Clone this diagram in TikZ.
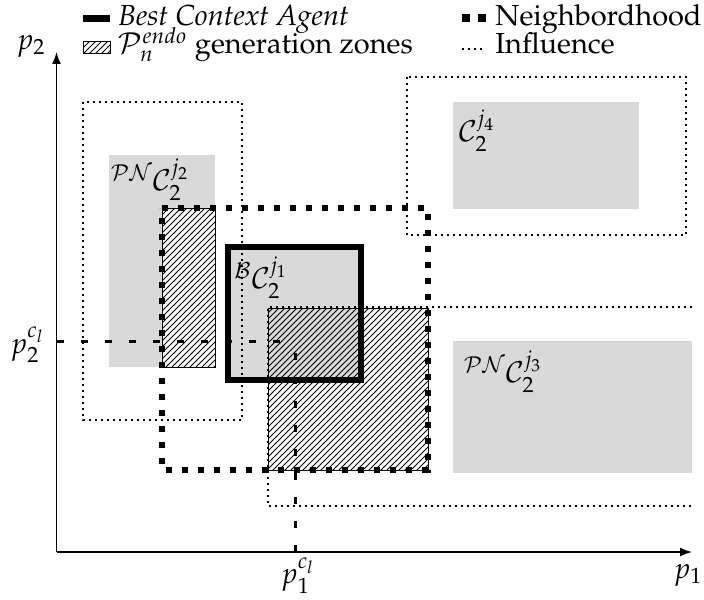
\documentclass[tikz,border=0pt]{standalone}
\usepackage[T1]{fontenc}
\usepackage{mathpazo}
\usetikzlibrary{patterns,arrows.meta}
\definecolor{zone}{RGB}{217,217,217}
\tikzset{
  zonefill/.style={fill=zone,draw=none},
  hatchzone/.style={pattern=north east lines,draw=black,line width=0.5pt},
  influence/.style={draw=black,line width=0.9pt,dash pattern=on 0.9pt off 2.1pt},
  neigh/.style={draw=black,line width=3pt,dash pattern=on 3pt off 5pt},
  bestbox/.style={draw=black,line width=3pt},
  cldash/.style={draw=black,line width=1.5pt,dash pattern=on 3.5pt off 8.5pt},
  axis/.style={draw=black,line width=0.8pt,-{Latex[length=6pt,width=4.5pt]}},
  lbl/.style={inner sep=0pt,font=\fontsize{14.5}{17}\selectfont}
}
\begin{document}
\begin{tikzpicture}[x=0.5pt,y=-0.5pt]
\useasboundingbox (0,0) rectangle (704,599);
% gray zones
\fill[zone] (109,155) rectangle (215,367);
\fill[zone] (228,247) rectangle (361,380);
\fill[zone] (453,341) rectangle (692,473);
\fill[zone] (453,102) rectangle (639,209);
% hatched generation zones
\fill[white] (162,208) rectangle (215,367);
\path[hatchzone] (162,208) rectangle (215,367);
\path[hatchzone] (268,308) rectangle (428,470);
% influence
\path[influence] (83,102) rectangle (242,420);
\path[influence] (407,77) rectangle (686,235);
\path[influence] (692,307) -- (268,307) -- (268,506) -- (692,506);
% best context agent
\path[bestbox] (228,247) rectangle (361,380);
% neighborhood
\path[neigh] (162,208) -- (428,208) -- (428,470) -- (162,470) -- cycle;
% axes
\coordinate (O) at (56.5,552);
\coordinate (Y) at (56.5,52);
\coordinate (X) at (692,552);
\path[axis] (O) -- (Y);
\path[axis] (O) -- (X);
% projections
\coordinate (h0) at (57,341);
\coordinate (h1) at (295,341);
\coordinate (v0) at (295,552);
\path[cldash] (h0) -- (h1);
\path[cldash] (v0) -- (h1);
% labels
\node[lbl] (lp2) at (31,46) {$p_2$};
\node[lbl] (lp1) at (688,575) {$p_1$};
\node[lbl,anchor=east] (lp2c) at (45,345) {$p_2^{c_l}$};
\node[lbl] (lp1c) at (298,576) {$p_1^{c_l}$};
\node[lbl] (tj2) at (150,180) {${}^{\mathcal{PN}}\mathcal{C}_2^{j_2}$};
\node[lbl] (tj1) at (261,278) {${}^{\mathcal{B}}\mathcal{C}_2^{j_1}$};
\node[lbl] (tj3) at (503,372) {${}^{\mathcal{PN}}\mathcal{C}_2^{j_3}$};
\node[lbl] (tj4) at (477,131) {$\mathcal{C}_2^{j_4}$};
% legend
\fill[black] (83,15) rectangle (110,22);
\node[lbl,anchor=base west] (lg1) at (118,26) {\itshape Best Context Agent};
\path[hatchzone] (83,42) rectangle (110,54);
\node[lbl,anchor=base west] (lg2) at (118,54) {$\mathcal{P}_n^{endo}$ generation zones};
\fill[black] (462,14) rectangle (470,22);
\fill[black] (478,14) rectangle (486,22);
\node[lbl,anchor=base west] (lg3) at (495,26) {Neighbordhood};
\coordinate (d0) at (462,49);
\coordinate (d1) at (486,49);
\path[influence] (d0) -- (d1);
\node[lbl,anchor=base west] (lg4) at (495,54) {Influence};
\end{tikzpicture}
\end{document}
